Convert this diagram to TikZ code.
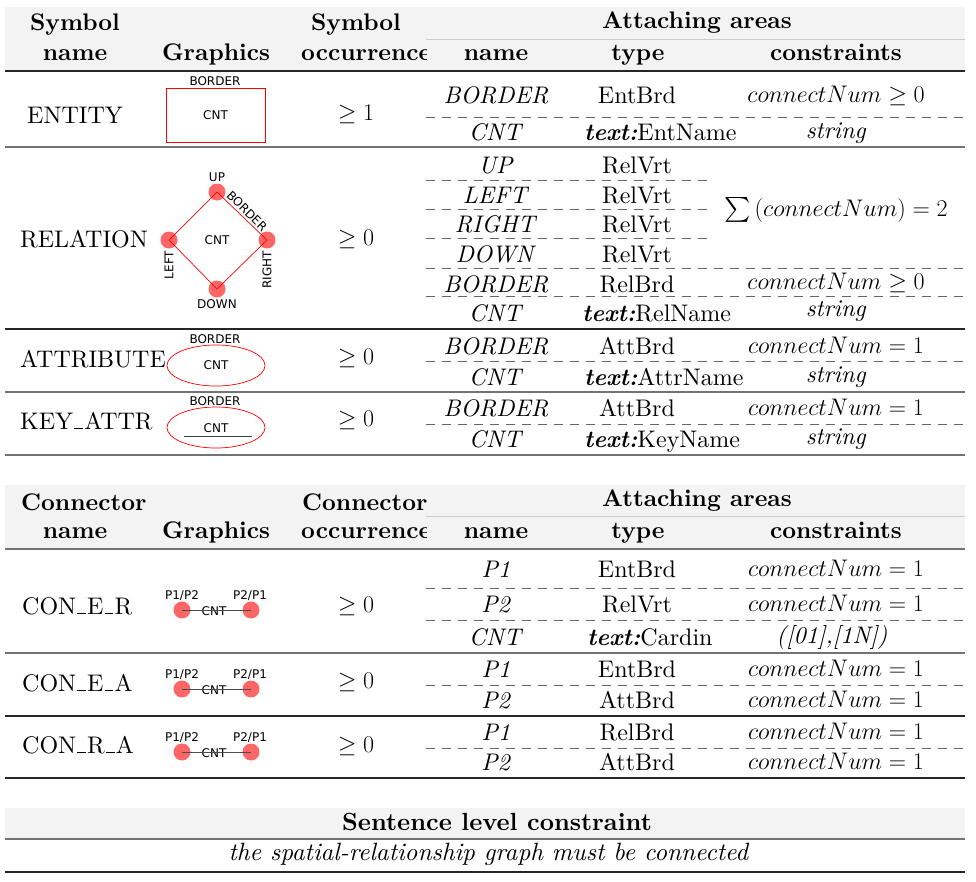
\RequirePackage{fix-cm}
\documentclass[tikz,border=0pt]{standalone}
\usepackage{amsmath}
\usepackage{fontspec}
\setmainfont{lmroman10}[Extension=.otf, UprightFont=*-regular, ItalicFont=*-italic, BoldFont=*-bold, BoldItalicFont=*-bolditalic]
\newfontfamily\dejavu{DejaVu Sans}
\usetikzlibrary{shapes.geometric}
\definecolor{pinred}{RGB}{255,85,85}
\definecolor{hdgray}{RGB}{243,243,243}
\newcommand{\ubar}{\kern.05em\rule{.36em}{0.9pt}\kern.05em}

\begin{document}
\begin{tikzpicture}[x=1pt,y=-1pt,
    txt/.style={font=\fontsize{24}{29}\selectfont, anchor=base, inner sep=0pt},
    hd/.style={txt, font=\fontsize{24}{29}\selectfont\bfseries},
    lbl/.style={font=\dejavu\fontsize{12}{14}\selectfont, inner sep=0pt},
    pin/.style={circle, fill=pinred, fill opacity=0.9, minimum size=17pt, inner sep=0pt},
    redline/.style={draw=red, line width=0.7pt},
    rulek/.style={line width=1.3pt, black!85},
    ruleg/.style={line width=1.3pt, black!55},
    cmid/.style={line width=0.6pt, black!20},
    dsh/.style={line width=0.8pt, black!60, dash pattern=on 9pt off 7pt}]

    \useasboundingbox (0,0) rectangle (976,881);

    % symbol table
    \fill[hdgray] (5,7) rectangle (965,71);
    \node[hd] (t1nameA) at (75,30) {Symbol};
    \node[hd] (t1nameB) at (75,60) {name};
    \node[hd] (t1graph) at (216,60) {Graphics};
    \begin{scope}
        \clip (290,0) rectangle (426,75);
        \node[hd] (t1occA) at (356,30) {Symbol};
        \node[hd, anchor=base west] (t1occB) at (301,60) {occurrence};
    \end{scope}
    \node[hd] (t1att) at (697,28) {Attaching areas};
    \node[hd] (t1an) at (496,60) {name};
    \node[hd] (t1at) at (638,60) {type};
    \node[hd] (t1ac) at (836,60) {constraints};

    \draw[cmid] (426,39) -- (965,39);
    \draw[rulek] (5,71) -- (965,71);
    \draw[ruleg] (5,147) -- (965,147);
    \draw[rulek] (5,329) -- (965,329);
    \draw[ruleg] (5,392) -- (965,392);
    \draw[ruleg] (5,455) -- (965,455);
    \foreach \y in {117,268,296,361,424}
        \draw[dsh] (426,\y) -- (965,\y);
    \foreach \y in {180,209,238}
        \draw[dsh] (426,\y) -- (708,\y);

    % ENTITY
    \node[txt] (entity) at (75,123) {ENTITY};
    \node[draw=red, line width=0.7pt, minimum width=99pt, minimum height=54pt, lbl] (entbox) at (215.5,115) {CNT};
    \node[lbl] (entbrd) at (215,81) {BORDER};
    \node[txt] (entocc) at (356,120) {$\geq 1$};
    \node[txt] (entn1) at (496,103) {\textit{BORDER}};
    \node[txt] (entt1) at (637,103) {EntBrd};
    \node[txt] (entc1) at (836,102) {$connectNum \geq 0$};
    \node[txt] (entn2) at (496,140) {\textit{CNT}};
    \node[txt, anchor=base west] (entt2) at (584,140) {\textbf{\textit{text:}}EntName};
    \node[txt] (entc2) at (836,138) {\textit{string}};

    % RELATION
    \node[txt, anchor=base west] (relation) at (20,247) {RELATION};
    \node[pin] (rup) at (217,192) {};
    \node[pin] (rleft) at (169,240) {};
    \node[pin] (rright) at (267,240) {};
    \node[pin] (rdown) at (217,289) {};
    \draw[redline] (rup.center) -- (rright.center) -- (rdown.center) -- (rleft.center) -- cycle;
    \node[lbl] (rcnt) at (217,240) {CNT};
    \node[lbl] (rupl) at (217,177) {UP};
    \node[lbl] (rdownl) at (217,304) {DOWN};
    \node[lbl, rotate=90] (rleftl) at (169,265) {LEFT};
    \node[lbl, rotate=90] (rrightl) at (267,270) {RIGHT};
    \node[lbl, rotate=-45] (rbrd) at (247,211) {BORDER};
    \node[txt] (relocc) at (356,245) {$\geq 0$};
    \node[txt] (reln1) at (496,173) {\textit{UP}};
    \node[txt] (reln2) at (496,203) {\textit{LEFT}};
    \node[txt] (reln3) at (496,232) {\textit{RIGHT}};
    \node[txt] (reln4) at (496,262) {\textit{DOWN}};
    \node[txt] (reln5) at (496,292) {\textit{BORDER}};
    \node[txt] (reln6) at (496,321) {\textit{CNT}};
    \node[txt] (relt1) at (637,173) {RelVrt};
    \node[txt] (relt2) at (637,203) {RelVrt};
    \node[txt] (relt3) at (637,232) {RelVrt};
    \node[txt] (relt4) at (637,262) {RelVrt};
    \node[txt] (relt5) at (637,292) {RelBrd};
    \node[txt, anchor=base west] (relt6) at (582,321) {\textbf{\textit{text:}}RelName};
    \node[txt] (relc1) at (836,216) {$\sum\,(connectNum)=2$};
    \node[txt] (relc2) at (836,289) {$connectNum \geq 0$};
    \node[txt] (relc3) at (836,316) {\textit{string}};

    % ATTRIBUTE
    \node[txt, anchor=base west] (attribute) at (20,367) {ATTRIBUTE};
    \node[ellipse, draw=red, line width=0.7pt, minimum width=98pt, minimum height=41pt, lbl] (attell) at (216,365.5) {CNT};
    \node[lbl] (attbrd) at (215,339) {BORDER};
    \node[txt] (attocc) at (356,364) {$\geq 0$};
    \node[txt] (attn1) at (496,354) {\textit{BORDER}};
    \node[txt] (attt1) at (637,354) {AttBrd};
    \node[txt] (attc1) at (836,353) {$connectNum = 1$};
    \node[txt] (attn2) at (496,385) {\textit{CNT}};
    \node[txt, anchor=base west] (attt2) at (584,385) {\textbf{\textit{text:}}AttrName};
    \node[txt] (attc2) at (836,382) {\textit{string}};

    % KEY_ATTR
    \node[txt, anchor=base west] (keyattr) at (20,429) {KEY\ubar ATTR};
    \node[ellipse, draw=red, line width=0.7pt, minimum width=98pt, minimum height=41pt] (keyell) at (216,427.5) {};
    \node[lbl] (keycnt) at (216,428) {CNT};
    \coordinate (keyul) at (184,436);
    \coordinate (keyur) at (252,436);
    \draw[line width=0.8pt, black!75] (keyul) -- (keyur);
    \node[lbl] (keybrd) at (215,401.5) {BORDER};
    \node[txt] (keyocc) at (356,426) {$\geq 0$};
    \node[txt] (keyn1) at (496,416) {\textit{BORDER}};
    \node[txt] (keyt1) at (637,416) {AttBrd};
    \node[txt] (keyc1) at (836,415) {$connectNum = 1$};
    \node[txt] (keyn2) at (496,447) {\textit{CNT}};
    \node[txt, anchor=base west] (keyt2) at (584,447) {\textbf{\textit{text:}}KeyName};
    \node[txt] (keyc2) at (836,444) {\textit{string}};

    % connector table
    \fill[hdgray] (5,485) rectangle (965,549);
    \node[hd, anchor=base west] (t2nameA) at (21,510) {Connector};
    \node[hd] (t2nameB) at (75,538) {name};
    \node[hd] (t2graph) at (216,538) {Graphics};
    \begin{scope}
        \clip (290,480) rectangle (426,552);
        \node[hd, anchor=base west] (t2occA) at (302,510) {Connector};
        \node[hd, anchor=base west] (t2occB) at (301,538) {occurrence};
    \end{scope}
    \node[hd] (t2att) at (697,506) {Attaching areas};
    \node[hd] (t2an) at (496,538) {name};
    \node[hd] (t2at) at (638,538) {type};
    \node[hd] (t2ac) at (836,538) {constraints};

    \draw[cmid] (426,516) -- (965,516);
    \draw[ruleg] (5,549) -- (965,549);
    \draw[ruleg] (5,653) -- (965,653);
    \draw[rulek] (5,716) -- (965,716);
    \draw[rulek] (5,778) -- (965,778);
    \foreach \y in {588,620,685,748}
        \draw[dsh] (426,\y) -- (965,\y);

    % connector graphics
    \foreach \y/\n in {610/er,689/ea,752/ra} {
        \node[pin] (c\n a) at (182,\y) {};
        \node[pin] (c\n b) at (251,\y) {};
        \node[lbl] (c\n cnt) at (214,\y+1) {CNT};
        \node[lbl] (c\n la) at (182,\y-14) {P1/P2};
        \node[lbl] (c\n lb) at (250,\y-14) {P2/P1};
        \draw[line width=1pt, black!70] (c\n a.center) -- (c\n b.center);
    }

    % CON_E_R
    \node[txt, anchor=base west] (coner) at (22,614) {CON\ubar E\ubar R};
    \node[txt] (conerocc) at (356,612) {$\geq 0$};
    \node[txt] (conern1) at (496,577) {\textit{P1}};
    \node[txt] (conert1) at (637,577) {EntBrd};
    \node[txt] (conerc1) at (836,576) {$connectNum = 1$};
    \node[txt] (conern2) at (496,612) {\textit{P2}};
    \node[txt] (conert2) at (637,612) {RelVrt};
    \node[txt] (conerc2) at (836,611) {$connectNum = 1$};
    \node[txt] (conern3) at (496,645) {\textit{CNT}};
    \node[txt, anchor=base west] (conert3) at (587,645) {\textbf{\textit{text:}}Cardin};
    \node[txt] (conerc3) at (832,643) {\textit{([01],[1N])}};

    % CON_E_A
    \node[txt, anchor=base west] (conea) at (22,691) {CON\ubar E\ubar A};
    \node[txt] (coneaocc) at (356,688) {$\geq 0$};
    \node[txt] (conean1) at (496,677) {\textit{P1}};
    \node[txt] (coneat1) at (637,677) {EntBrd};
    \node[txt] (coneac1) at (836,676) {$connectNum = 1$};
    \node[txt] (conean2) at (496,708) {\textit{P2}};
    \node[txt] (coneat2) at (637,708) {AttBrd};
    \node[txt] (coneac2) at (836,707) {$connectNum = 1$};

    % CON_R_A
    \node[txt, anchor=base west] (conra) at (22,753) {CON\ubar R\ubar A};
    \node[txt] (conraocc) at (356,752) {$\geq 0$};
    \node[txt] (conran1) at (496,740) {\textit{P1}};
    \node[txt] (conrat1) at (637,740) {RelBrd};
    \node[txt] (conrac1) at (836,739) {$connectNum = 1$};
    \node[txt] (conran2) at (496,770) {\textit{P2}};
    \node[txt] (conrat2) at (637,770) {AttBrd};
    \node[txt] (conrac2) at (836,769) {$connectNum = 1$};

    % sentence level
    \fill[hdgray] (5,808) rectangle (965,839);
    \node[hd, font=\fontsize{24.8}{29}\selectfont\bfseries] (sent) at (497,830) {Sentence level constraint};
    \draw[ruleg] (5,839) -- (965,839);
    \node[txt, font=\fontsize{25}{29}\selectfont] (sentc) at (489,860) {\textit{the spatial-relationship graph must be connected}};
    \draw[rulek] (5,872) -- (965,872);

\end{tikzpicture}
\end{document}
